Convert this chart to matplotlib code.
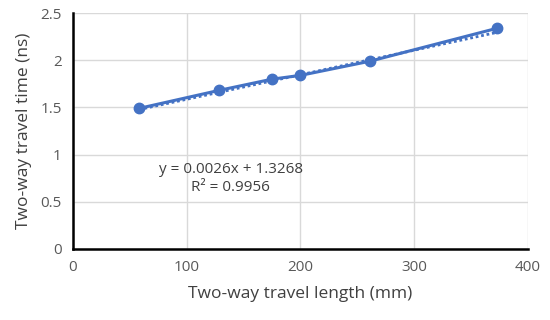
import matplotlib
matplotlib.use('Agg')
import matplotlib.pyplot as plt
import numpy as np

plt.rcParams['font.family'] = ['Open Sans', 'DejaVu Sans']

# data
length_mm = [58, 128, 175, 200, 261, 373]
time_ns = [1.49, 1.68, 1.80, 1.84, 1.99, 2.34]
slope, intercept = 0.0026, 1.3268
r2 = 0.9956

BLUE = '#4472C4'
GRID = '#D9D9D9'

fig = plt.figure(figsize=(5.5, 3.2), dpi=100)
ax = fig.add_axes([0.1327, 0.222, 0.8273, 0.737])

ax.plot(length_mm, time_ns, color=BLUE, linewidth=2.2, marker='o',
        markersize=7.5, zorder=3)
fit_x = np.array([min(length_mm), max(length_mm)])
ax.plot(fit_x, slope * fit_x + intercept, color=BLUE, linewidth=2,
        linestyle=(0, (1, 1)), zorder=2)

ax.set_xlim(0, 400)
ax.set_ylim(0, 2.5)
ax.set_xticks([0, 100, 200, 300, 400])
ax.set_yticks([0, 0.5, 1, 1.5, 2, 2.5])
ax.set_yticklabels(['0', '0.5', '1', '1.5', '2', '2.5'])
ax.grid(True, color=GRID, linewidth=1)
ax.set_axisbelow(True)
for s in ['top', 'right']:
    ax.spines[s].set_visible(False)
for s in ['left', 'bottom']:
    ax.spines[s].set_color('black')
    ax.spines[s].set_linewidth(1.8)
ax.tick_params(length=0, labelsize=11, colors='#595959', pad=8)

ax.set_xlabel('Two-way travel length (mm)', fontsize=12.5, color='#404040', labelpad=8)
ax.set_ylabel('Two-way travel time (ns)', fontsize=12.5, color='#404040', labelpad=6)

ax.text(0.347, 0.30, f'y = {slope}x + {intercept}\nR² = {r2}', transform=ax.transAxes,
        fontsize=11, color='#404040', ha='center', va='center', linespacing=1.25)

fig.savefig('out.png', dpi=100)
